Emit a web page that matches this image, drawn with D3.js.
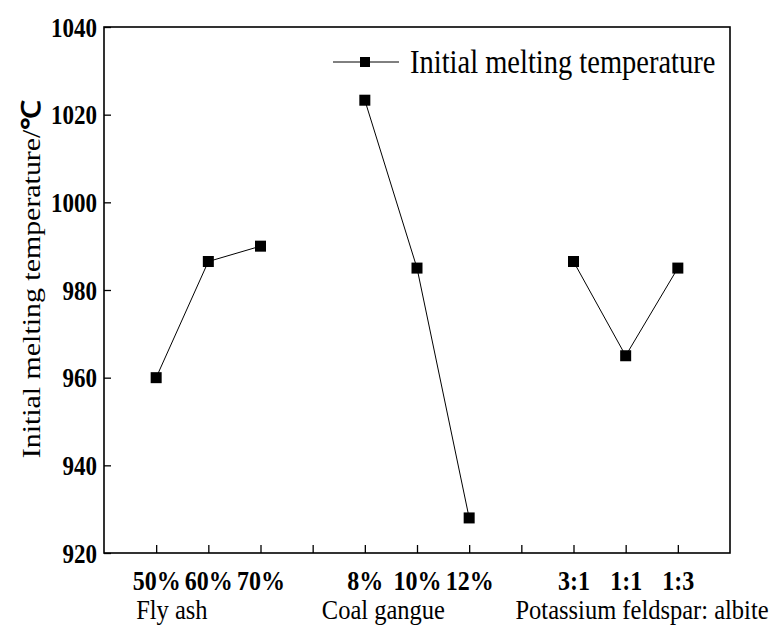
<!doctype html>
<html>
<head>
<meta charset="utf-8">
<script src="https://cdnjs.cloudflare.com/ajax/libs/d3/7.8.5/d3.min.js"></script>
<style>
  body { margin: 0; background: #fff; }
</style>
</head>
<body>
<div id="chart"></div>
<script>
// data
var tickLabels = ["50%", "60%", "70%", "", "8%", "10%", "12%", "", "3:1", "1:1", "1:3"];
var groupNames = ["Fly ash", "Coal gangue", "Potassium feldspar: albite"];
var flyAsh = [960, 986.5, 990];
var coalGangue = [1023.3, 985, 928];
var feldspar = [986.5, 965, 985];
var yTicks = [920, 940, 960, 980, 1000, 1020, 1040];

var groups = [
  { name: groupNames[0], start: 1, values: flyAsh, dx: -20 },
  { name: groupNames[1], start: 5, values: coalGangue, dx: -43 },
  { name: groupNames[2], start: 9, values: feldspar, dx: -58 }
];

var serif = "'Liberation Serif', 'Times New Roman', serif";
var stretch = 1.15; // the original text looks a bit taller than wide

var width = 771, height = 627;
var margin = { top: 27, right: 41, bottom: 74, left: 104 };

var svg = d3.select("#chart").append("svg").attr("width", width).attr("height", height);

var x = d3.scaleLinear([0, 12], [margin.left, width - margin.right]);
var y = d3.scaleLinear([920, 1040], [height - margin.bottom, margin.top]);

// frame
svg.append("rect")
  .attr("x", x(0)).attr("y", y(1040))
  .attr("width", x(12) - x(0)).attr("height", y(920) - y(1040))
  .attr("fill", "none").attr("stroke", "#000").attr("stroke-width", 1.6);

// y axis (ticks inside)
var yAxis = d3.axisLeft(y).tickValues(yTicks).tickSize(-7).tickSizeOuter(0).tickFormat(d3.format("d"));
var gy = svg.append("g").attr("transform", `translate(${x(0)},0)`).call(yAxis);
gy.attr("font-family", null);
gy.select(".domain").remove();
gy.selectAll("line").attr("stroke-width", 1.3);
gy.selectAll("text")
  .attr("x", null).attr("dy", null)
  .attr("text-anchor", "end")
  .attr("transform", `translate(-7,9) scale(1,${stretch})`)
  .attr("font-size", 23).attr("font-weight", "bold").attr("fill", "#000")
  .style("font-family", serif);

// x axis (ticks inside)
var xAxis = d3.axisBottom(x).tickValues(d3.range(1, 12)).tickSize(-8).tickSizeOuter(0)
  .tickFormat(d => tickLabels[d - 1]);
var gx = svg.append("g").attr("transform", `translate(0,${y(920)})`).call(xAxis);
gx.attr("font-family", null);
gx.select(".domain").remove();
gx.selectAll("line").attr("stroke-width", 1.3);
gx.selectAll("text")
  .attr("y", null).attr("dy", null)
  .attr("transform", `translate(0,37) scale(1,1.1)`)
  .attr("font-size", 24).attr("font-weight", "bold").attr("fill", "#000")
  .style("font-family", serif);

// group labels
svg.append("g").selectAll("text")
  .data(groups)
  .join("text")
  .attr("transform", d => `translate(${x(d.start) + d.dx},${height - 8}) scale(1,1.1)`)
  .attr("font-size", 24.5)
  .style("font-family", serif)
  .text(d => d.name);

// series
var line = d3.line().x(d => x(d.i)).y(d => y(d.v));
groups.forEach(function (g) {
  var pts = g.values.map((v, k) => ({ i: g.start + k, v: v }));
  svg.append("path").datum(pts).attr("d", line)
    .attr("fill", "none").attr("stroke", "#000").attr("stroke-width", 1);
  svg.append("g").selectAll("rect")
    .data(pts)
    .join("rect")
    .attr("x", d => x(d.i) - 5.5).attr("y", d => y(d.v) - 5.5)
    .attr("width", 11).attr("height", 11)
    .attr("fill", "#000");
});

// y label
var ylab = svg.append("text")
  .attr("transform", `translate(40,${(y(920) + y(1040)) / 2 - 11}) rotate(-90) scale(${stretch},1)`)
  .attr("text-anchor", "middle")
  .attr("font-size", 26)
  .style("font-family", serif)
  .text("Initial melting temperature/");
ylab.append("tspan").attr("font-weight", "bold").text("℃");

// legend
var legend = svg.append("g").attr("transform", "translate(333,62)");
legend.append("line").attr("x1", 0).attr("x2", 66).attr("y1", 0).attr("y2", 0)
  .attr("stroke", "#000").attr("stroke-width", 1);
legend.append("rect").attr("x", 27).attr("y", -5).attr("width", 10).attr("height", 10).attr("fill", "#000");
legend.append("text")
  .attr("transform", `translate(77,11) scale(1,${stretch})`)
  .attr("font-size", 28.5)
  .style("font-family", serif)
  .text("Initial melting temperature");
</script>
</body>
</html>
